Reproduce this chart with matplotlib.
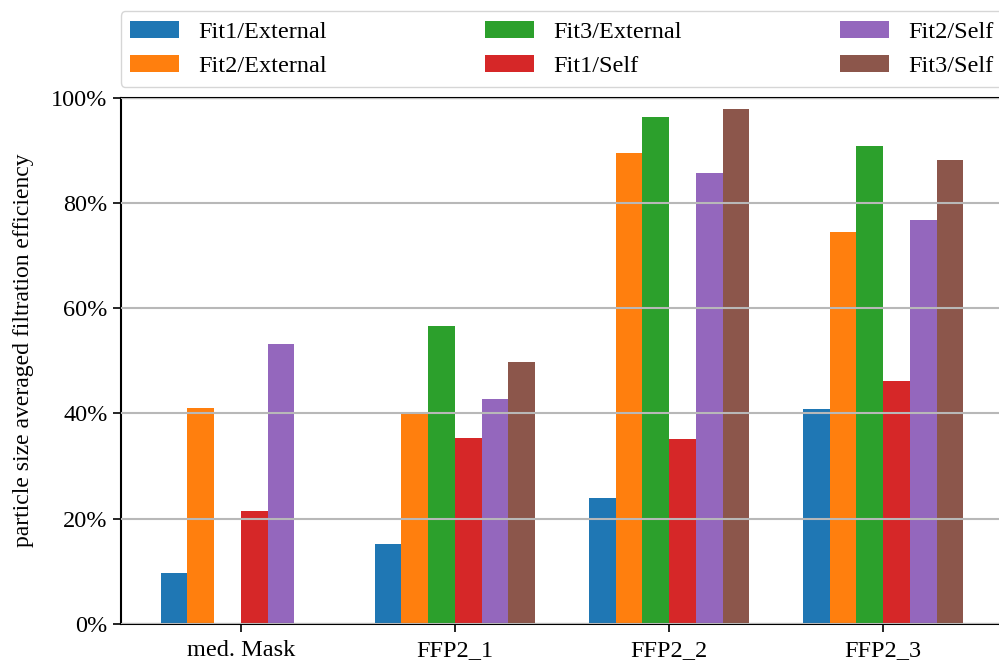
import numpy as np
import matplotlib.pyplot as plt
from matplotlib.ticker import PercentFormatter

masks = ["med. Mask", "FFP2_1", "FFP2_2", "FFP2_3"]
series = ["Fit1/External", "Fit2/External", "Fit3/External",
          "Fit1/Self", "Fit2/Self", "Fit3/Self"]

fit1_external = [9.7, 15.2, 24.0, 40.8]
fit2_external = [41.1, 39.8, 89.5, 74.4]
fit3_external = [0.0, 56.7, 96.4, 90.9]
fit1_self = [21.4, 35.4, 35.2, 46.1]
fit2_self = [53.1, 42.7, 85.6, 76.8]
fit3_self = [0.0, 49.8, 97.8, 88.2]


def main():
    plt.rcParams["font.family"] = ["Liberation Serif", "DejaVu Serif"]
    values = [fit1_external, fit2_external, fit3_external,
              fit1_self, fit2_self, fit3_self]

    fig = plt.figure(figsize=(9.99, 6.64), dpi=100)
    ax = fig.add_axes([120.6 / 999, 40 / 664, 882.8 / 999, 526.4 / 664])

    x = np.arange(len(masks))
    width = 0.125
    for i, (name, vals) in enumerate(zip(series, values)):
        ax.bar(x + (i - 2.5) * width, vals, width, label=name)

    ax.set_ylim(0, 100)
    ax.yaxis.set_major_formatter(PercentFormatter(decimals=0))
    ax.set_xticks(x)
    ax.set_xticklabels(masks)
    ax.tick_params(labelsize=17.5, length=6, width=1.2)
    ax.tick_params(axis="x", pad=5.5)
    ax.set_ylabel("particle size averaged filtration efficiency", fontsize=17)
    # label sits a little above the axes centre in the original
    ax.yaxis.set_label_coords(-0.098, 0.52)

    ax.set_axisbelow(False)
    ax.yaxis.grid(True, color="#b8b8b8", linewidth=1.5)
    for sp in ax.spines.values():
        sp.set_linewidth(1.5)

    ax.legend(bbox_to_anchor=(0.0, 1.02, 1.0, 0.102), loc="lower left",
              ncol=3, mode="expand", borderaxespad=0.0, fontsize=17.5)

    fig.savefig("out.png", dpi=100)


if __name__ == "__main__":
    main()
